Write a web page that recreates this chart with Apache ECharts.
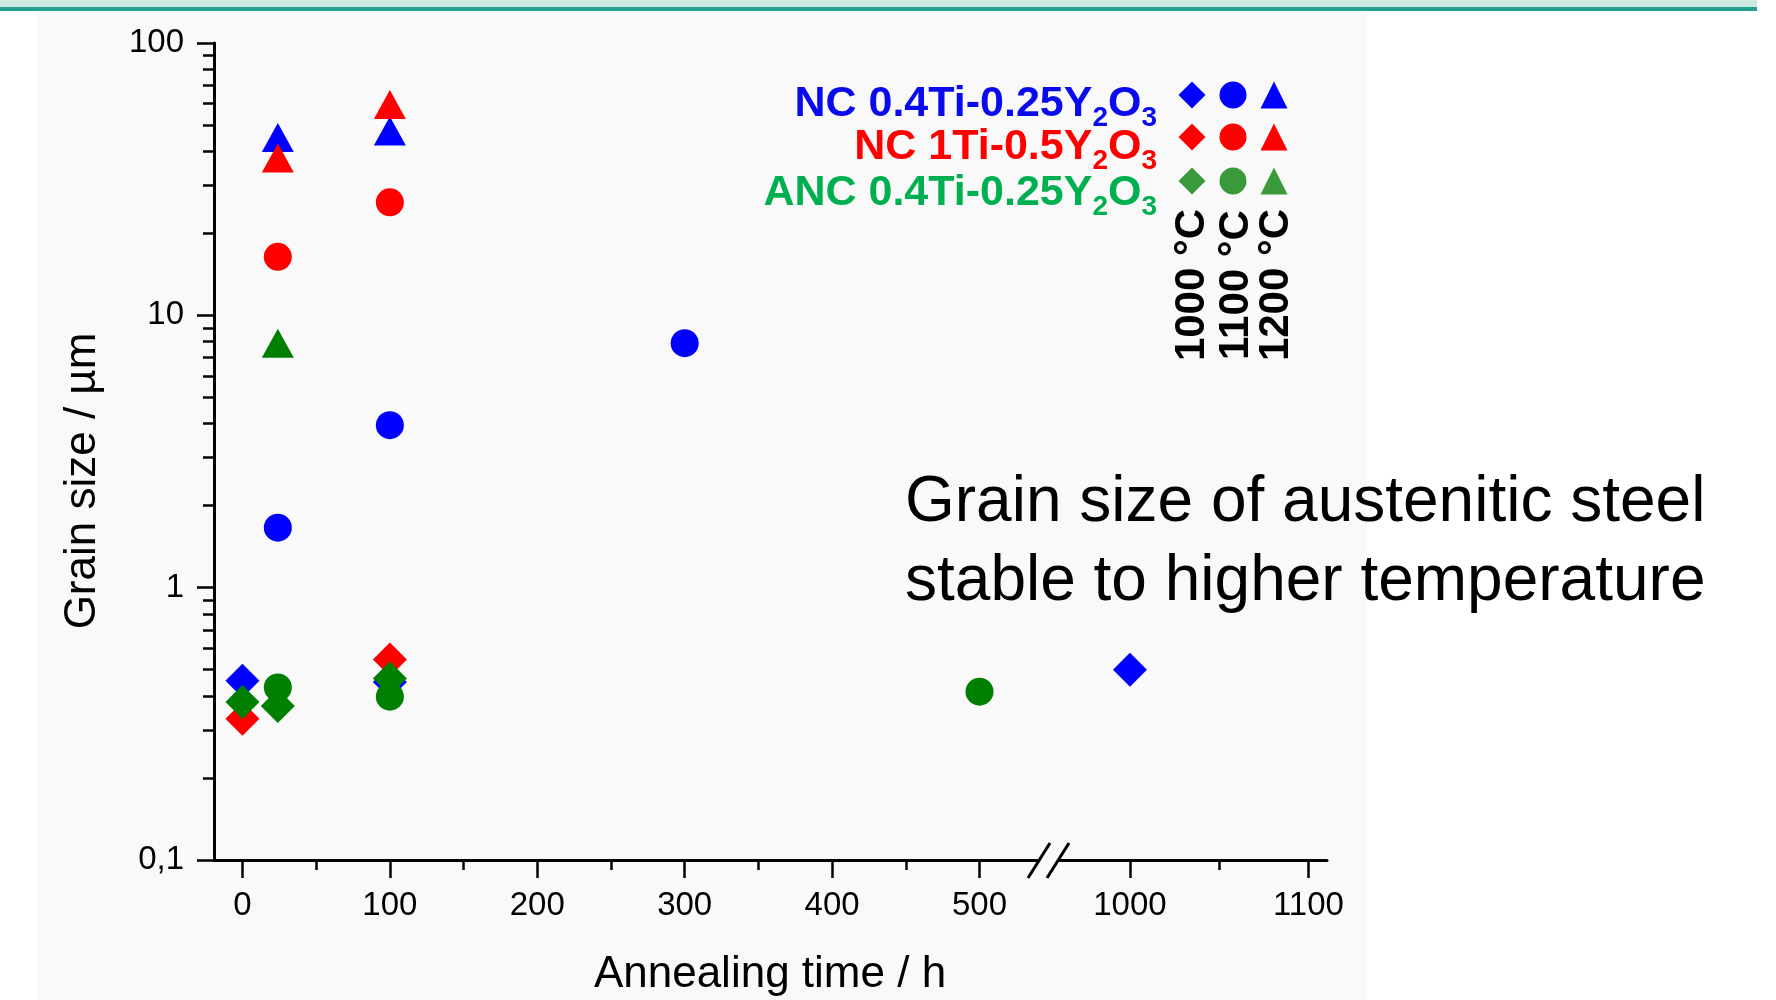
<!DOCTYPE html>
<html>
<head>
<meta charset="utf-8">
<title>Grain size vs annealing time</title>
<script src="https://cdn.jsdelivr.net/npm/echarts@6/dist/echarts.min.js"></script>
<style>
  html, body { margin: 0; padding: 0; background: #fff; }
  #chart { width: 1776px; height: 1000px; }
</style>
</head>
<body>
<div id="chart"></div>
<script>
// grain size (µm) against annealing time (h), pairs are [time, size]
// NC 0.4Ti-0.25Y2O3
const blue1000 = [[0, 0.455], [100, 0.45]];
const blue1000Long = [[1000, 0.5]];
const blue1100 = [[24, 1.66], [100, 3.95], [300, 7.9]];
const blue1200 = [[24, 45], [100, 47.5]];
// NC 1Ti-0.5Y2O3
const red1000 = [[0, 0.33], [100, 0.545]];
const red1100 = [[24, 16.4], [100, 26]];
const red1200 = [[24, 37.8], [100, 59.5]];
// ANC 0.4Ti-0.25Y2O3
const green1000 = [[0, 0.38], [24, 0.368], [100, 0.464]];
const green1100 = [[24, 0.43], [100, 0.398], [500, 0.415]];
const green1200 = [[24, 7.9]];

// axis ticks (the x axis is broken between 500 and 1000 h)
const xMajorTicks = [0, 100, 200, 300, 400, 500];
const xMinorTicks = [50, 150, 250, 350, 450];
const xMajorTicksLong = [1000, 1100];
const xMinorTicksLong = [1050];
const yMinorTicks = [0.2, 0.3, 0.4, 0.5, 0.6, 0.7, 0.8, 0.9,
                     2, 3, 4, 5, 6, 7, 8, 9,
                     20, 30, 40, 50, 60, 70, 80, 90];

const materials = ['NC 0.4Ti-0.25Y', 'NC 1Ti-0.5Y', 'ANC 0.4Ti-0.25Y'];
const temperatures = ['1000 °C', '1100 °C', '1200 °C'];
const symbols = ['diamond', 'circle', 'triangle'];

const FONT = 'Liberation Sans, Arial, sans-serif';
const dataColors = ['#0000ff', '#ff0000', '#008000'];
const legendColors = ['#0000ff', '#ff0000', '#3a993a'];
const textColors = ['#0a0aee', '#ff0000', '#00b050'];
const symbolSizes = [[34, 34], 28, [32, 29]];

function sname(i, j) {
  return materials[i] + '2O3 ' + temperatures[j];
}

function pts(i, j, data, xi, yi) {
  return {
    name: sname(i, j),
    type: 'scatter',
    data: data,
    symbol: symbols[j],
    symbolSize: symbolSizes[j],
    xAxisIndex: xi,
    yAxisIndex: yi,
    itemStyle: { color: dataColors[i], opacity: 1 },
    emphasis: { disabled: true },
    z: 2 + i
  };
}

const tickLine = { color: '#000', width: 2.5 };
const labelFont = { color: '#000', fontSize: 33, fontFamily: FONT };

function majorX(grid, min, max, ticks) {
  return {
    type: 'value', gridIndex: grid, position: 'bottom', min: min, max: max,
    axisLine: { onZero: false, lineStyle: { color: '#000', width: 3 } },
    axisTick: { customValues: ticks, length: 18, lineStyle: tickLine },
    axisLabel: Object.assign({
      customValues: ticks, margin: 29,
      formatter: function (v) { return String(v); }
    }, labelFont),
    splitLine: { show: false }
  };
}
function minorX(grid, min, max, ticks) {
  return {
    type: 'value', gridIndex: grid, position: 'bottom', min: min, max: max,
    axisLine: { show: false, onZero: false },
    axisTick: { customValues: ticks, length: 10, lineStyle: tickLine },
    axisLabel: { show: false },
    splitLine: { show: false }
  };
}

let myChart = echarts.init(document.getElementById('chart'));

let option = {
  animation: false,
  backgroundColor: '#ffffff',
  grid: [
    { left: 214, right: 739, top: 43, bottom: 140, outerBoundsMode: 'none' },
    { left: 1060, right: 449, top: 43, bottom: 140, outerBoundsMode: 'none' }
  ],
  xAxis: [
    majorX(0, -19.3, 539, xMajorTicks),
    minorX(0, -19.3, 539, xMinorTicks),
    majorX(1, 960.8, 1110.4, xMajorTicksLong),
    minorX(1, 960.8, 1110.4, xMinorTicksLong)
  ],
  yAxis: [
    {
      type: 'log', logBase: 10, gridIndex: 0, position: 'left', min: 0.1, max: 100,
      axisLine: { onZero: false, lineStyle: { color: '#000', width: 3 } },
      axisTick: { length: 17, lineStyle: tickLine },
      axisLabel: Object.assign({
        margin: 30,
        formatter: function (v) { return v < 0.5 ? '0,1' : String(Math.round(v)); }
      }, labelFont),
      splitLine: { show: false }
    },
    {
      // minor log ticks, placed on a linear axis in decades
      type: 'value', gridIndex: 0, position: 'left', min: -1, max: 2,
      axisLine: { show: false, onZero: false },
      axisTick: { customValues: yMinorTicks.map(Math.log10), length: 11, lineStyle: tickLine },
      axisLabel: { show: false },
      splitLine: { show: false }
    },
    {
      type: 'log', logBase: 10, gridIndex: 1, min: 0.1, max: 100, show: false,
      axisLine: { onZero: false }, splitLine: { show: false }
    }
  ],
  legend: materials.map(function (m, i) {
    return {
      left: 1178.5, top: [81.5, 123.5, 167.5][i], padding: 0, orient: 'horizontal',
      itemWidth: 27, itemHeight: 27, itemGap: 14, selectedMode: false,
      formatter: function () { return ''; },
      textStyle: { fontSize: 10 },
      data: temperatures.map(function (t, j) {
        return { name: sname(i, j), icon: symbols[j], itemStyle: { color: legendColors[i] } };
      })
    };
  }),
  series: [
    pts(0, 0, blue1000, 0, 0),
    pts(0, 0, blue1000Long, 2, 2),
    pts(0, 1, blue1100, 0, 0),
    pts(0, 2, blue1200, 0, 0),
    pts(1, 0, red1000, 0, 0),
    pts(1, 1, red1100, 0, 0),
    pts(1, 2, red1200, 0, 0),
    pts(2, 0, green1000, 0, 0),
    pts(2, 1, green1100, 0, 0),
    pts(2, 2, green1200, 0, 0)
  ],
  graphic: {
    elements: [
      // slide background and top band
      { type: 'rect', z: -100, shape: { x: 37, y: 11, width: 1330, height: 989 }, style: { fill: '#f9f9f9' } },
      { type: 'rect', z: -100, shape: { x: 0, y: 0, width: 1757, height: 7 }, style: { fill: '#cce9e3' } },
      { type: 'rect', z: -100, shape: { x: 0, y: 7, width: 1757, height: 4 }, style: { fill: '#24a08e' } },
      // axis break marks
      { type: 'line', z: 50, shape: { x1: 1028, y1: 878, x2: 1050, y2: 843 }, style: { stroke: '#000', lineWidth: 3 } },
      { type: 'line', z: 50, shape: { x1: 1047, y1: 878, x2: 1069, y2: 843 }, style: { stroke: '#000', lineWidth: 3 } },
      // axis titles
      {
        type: 'text', z: 50, x: 770, y: 975,
        style: { text: 'Annealing time / h', fill: '#000', fontSize: 44, fontFamily: FONT, align: 'center', verticalAlign: 'middle' }
      },
      {
        type: 'text', z: 50, x: 83, y: 481, rotation: Math.PI / 2,
        style: { text: 'Grain size / µm', fill: '#000', fontSize: 44, fontFamily: FONT, align: 'center', verticalAlign: 'middle' }
      },
      // annotation
      {
        type: 'text', z: 50, x: 905, y: 503,
        style: { text: 'Grain size of austenitic steel', fill: '#000', fontSize: 64, fontFamily: FONT, align: 'left', verticalAlign: 'middle' }
      },
      {
        type: 'text', z: 50, x: 905, y: 582,
        style: { text: 'stable to higher temperature', fill: '#000', fontSize: 64, fontFamily: FONT, align: 'left', verticalAlign: 'middle' }
      }
    ].concat(materials.map(function (m, i) {
      // material names, Y2O3 with subscripts
      return {
        type: 'text', z: 50, x: 1157, y: [82.5, 125.5, 171.5][i],
        style: {
          text: '{n|' + m + '}{s|2}{n|O}{s|3}',
          fill: textColors[i], align: 'right', verticalAlign: 'top',
          rich: {
            n: { fill: textColors[i], fontSize: 43, fontWeight: 'bold', fontFamily: FONT, verticalAlign: 'top' },
            s: { fill: textColors[i], fontSize: 28, fontWeight: 'bold', fontFamily: FONT, verticalAlign: 'top', padding: [22, 0, 0, 0] }
          }
        }
      };
    })).concat(temperatures.map(function (t, j) {
      return {
        type: 'text', z: 50, x: [1192, 1236, 1276][j], y: 285, rotation: Math.PI / 2,
        style: { text: t, fill: '#000', fontSize: 42, fontWeight: 'bold', fontFamily: FONT, align: 'center', verticalAlign: 'middle' }
      };
    }))
  }
};

myChart.setOption(option);
</script>
</body>
</html>
